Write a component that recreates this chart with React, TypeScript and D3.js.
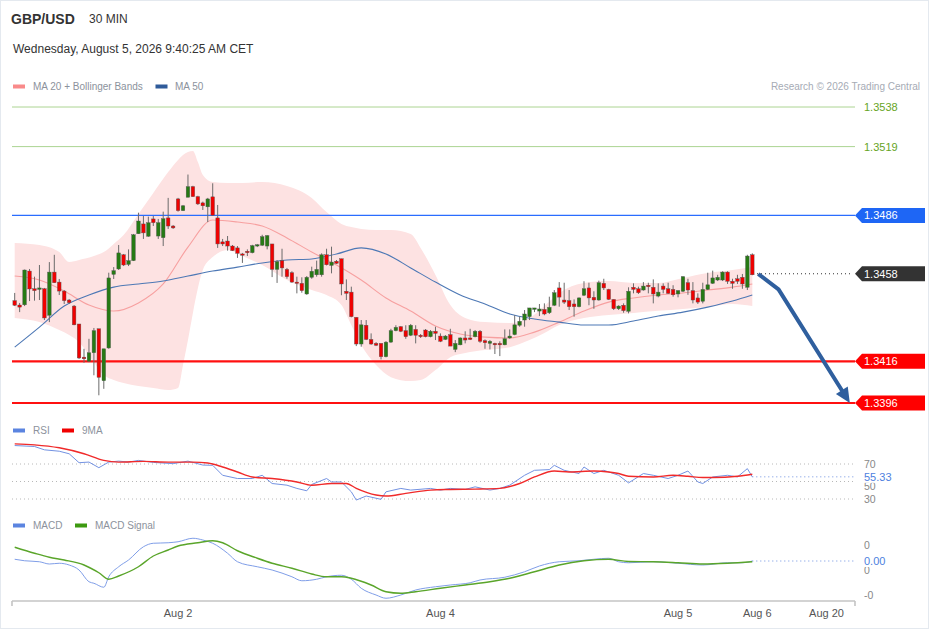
import * as d3 from "d3";

// candles, 30 min
const opens = [
  1.34451, 1.3443, 1.34431, 1.34593, 1.34508, 1.34505, 1.34508, 1.34381, 1.34588, 1.3454,
  1.34497, 1.34454, 1.34425, 1.34339, 1.3418, 1.3416, 1.34201, 1.34316, 1.34067, 1.34224,
  1.34577, 1.34603, 1.34671, 1.34625, 1.34643, 1.34772, 1.34819, 1.3476, 1.34843, 1.34761,
  1.34753, 1.34848, 1.34809, 1.34939, 1.34883, 1.34947, 1.34998, 1.3495, 1.3492, 1.34901,
  1.34949, 1.34848, 1.34733, 1.34737, 1.34713, 1.34704, 1.34675, 1.34688, 1.34681, 1.34713,
  1.34717, 1.34713, 1.34723, 1.34601, 1.34643, 1.34601, 1.34585, 1.3454, 1.34534, 1.34483,
  1.34563, 1.34575, 1.34575, 1.34671, 1.3462, 1.3464, 1.34652, 1.34496, 1.34492, 1.34371,
  1.34243, 1.34333, 1.34265, 1.34246, 1.34246, 1.34182, 1.34252, 1.34307, 1.34326, 1.34307,
  1.34285, 1.34313, 1.34285, 1.3431, 1.34278, 1.34304, 1.34281, 1.34265, 1.34288, 1.34217,
  1.34239, 1.34272, 1.34272, 1.34278, 1.34304, 1.34259, 1.34246, 1.34246, 1.34246, 1.34239,
  1.34272, 1.34288, 1.34333, 1.34358, 1.34374, 1.34409, 1.34401, 1.34409, 1.34393, 1.34429,
  1.34512, 1.34454, 1.34451, 1.34435, 1.34422, 1.34477, 1.34512, 1.34467, 1.34454, 1.34534,
  1.34505, 1.34457, 1.34412, 1.34429, 1.344, 1.34515, 1.34508, 1.34502, 1.34525, 1.34515,
  1.34473, 1.34521, 1.34508, 1.34505, 1.34483, 1.34496, 1.34537, 1.34499, 1.34464, 1.34448,
  1.34505, 1.34534, 1.3455, 1.3455, 1.34588, 1.34544, 1.34556, 1.34563, 1.34515, 1.34671,
];
const closes = [
  1.34429, 1.3442, 1.34598, 1.34507, 1.34499, 1.34512, 1.34368, 1.34588, 1.34537, 1.34497,
  1.34451, 1.34441, 1.34335, 1.34176, 1.34172, 1.34201, 1.34307, 1.34083, 1.3422, 1.3456,
  1.34595, 1.3468, 1.34622, 1.34643, 1.34767, 1.34833, 1.34776, 1.34825, 1.34825, 1.34825,
  1.34844, 1.34809, 1.348, 1.34883, 1.34906, 1.34998, 1.3495, 1.34915, 1.34906, 1.34939,
  1.34861, 1.34723, 1.34723, 1.34713, 1.34691, 1.34678, 1.34669, 1.34681, 1.34715, 1.34719,
  1.34758, 1.34763, 1.34601, 1.34638, 1.34608, 1.34566, 1.3454, 1.34534, 1.34499, 1.34563,
  1.34592, 1.34601, 1.34671, 1.34623, 1.34636, 1.3463, 1.34531, 1.34486, 1.34374, 1.34243,
  1.34335, 1.34265, 1.34243, 1.34237, 1.34182, 1.34252, 1.34307, 1.34323, 1.34304, 1.34278,
  1.34333, 1.34285, 1.34278, 1.34278, 1.34304, 1.34294, 1.34256, 1.34281, 1.34233, 1.34246,
  1.34272, 1.34262, 1.34265, 1.34304, 1.34256, 1.34249, 1.34256, 1.34239, 1.34239, 1.34268,
  1.34281, 1.34335, 1.34352, 1.34387, 1.34416, 1.34416, 1.34411, 1.34387, 1.34419, 1.34489,
  1.34468, 1.34444, 1.34422, 1.34422, 1.34464, 1.34508, 1.34464, 1.34454, 1.34537, 1.34512,
  1.34457, 1.34412, 1.34425, 1.34403, 1.34496, 1.34505, 1.34489, 1.34521, 1.34518, 1.34483,
  1.34492, 1.34505, 1.34486, 1.34479, 1.34499, 1.34566, 1.34502, 1.34454, 1.34444, 1.34505,
  1.34527, 1.3456, 1.34563, 1.34588, 1.34544, 1.34534, 1.34544, 1.34531, 1.34665, 1.34575,
];
const highs = [
  1.34488, 1.3444, 1.346, 1.34603, 1.34566, 1.34622, 1.34512, 1.34636, 1.34671, 1.34555,
  1.34502, 1.34459, 1.3443, 1.34339, 1.3422, 1.34268, 1.3432, 1.34316, 1.3422, 1.34585,
  1.34612, 1.34718, 1.34675, 1.34697, 1.34771, 1.34873, 1.34857, 1.34854, 1.34857, 1.34843,
  1.34878, 1.34944, 1.34814, 1.34944, 1.3491, 1.35056, 1.35002, 1.34954, 1.34926, 1.34944,
  1.35014, 1.3491, 1.34747, 1.34761, 1.34718, 1.34713, 1.3468, 1.34697, 1.34719, 1.34723,
  1.34767, 1.34766, 1.34723, 1.34646, 1.347, 1.34608, 1.34592, 1.34566, 1.34563, 1.34569,
  1.34614, 1.34643, 1.34678, 1.347, 1.3471, 1.34646, 1.34652, 1.34553, 1.34518, 1.34371,
  1.34358, 1.34358, 1.34294, 1.34252, 1.34246, 1.34257, 1.34316, 1.34333, 1.34329, 1.34333,
  1.34339, 1.34333, 1.34291, 1.34315, 1.3431, 1.34326, 1.34294, 1.34286, 1.34316, 1.34262,
  1.34275, 1.34304, 1.34316, 1.3431, 1.3431, 1.34265, 1.34262, 1.34249, 1.34256, 1.34313,
  1.34313, 1.34381, 1.34374, 1.34406, 1.34416, 1.34416, 1.34435, 1.34438, 1.3447, 1.34502,
  1.3454, 1.34537, 1.34502, 1.34457, 1.34467, 1.34544, 1.34537, 1.34496, 1.34547, 1.34556,
  1.34508, 1.34457, 1.34429, 1.34438, 1.34515, 1.34534, 1.34518, 1.3454, 1.34537, 1.34553,
  1.34534, 1.34534, 1.34537, 1.34525, 1.34502, 1.34569, 1.34556, 1.3454, 1.34486, 1.34537,
  1.34585, 1.34595, 1.34575, 1.34592, 1.34592, 1.34556, 1.34575, 1.34579, 1.34671, 1.34678,
];
const lows = [
  1.34425, 1.34396, 1.34425, 1.34449, 1.34451, 1.34454, 1.34358, 1.34348, 1.34536, 1.34478,
  1.34435, 1.34435, 1.34333, 1.34171, 1.34153, 1.34156, 1.34093, 1.33997, 1.34028, 1.3422,
  1.34555, 1.34598, 1.34617, 1.34617, 1.34641, 1.34771, 1.34747, 1.34757, 1.34809, 1.34747,
  1.34713, 1.34795, 1.34795, 1.34878, 1.34881, 1.34947, 1.34949, 1.3491, 1.34886, 1.34828,
  1.34858, 1.34704, 1.34713, 1.34691, 1.34689, 1.34656, 1.34632, 1.34665, 1.34678, 1.34708,
  1.34713, 1.34697, 1.34564, 1.34536, 1.34566, 1.34556, 1.34537, 1.34486, 1.34489, 1.34479,
  1.34556, 1.34566, 1.34566, 1.3462, 1.34582, 1.34627, 1.34477, 1.34454, 1.34371, 1.34233,
  1.3423, 1.34262, 1.34239, 1.34233, 1.34169, 1.34179, 1.34249, 1.34304, 1.343, 1.34268,
  1.34281, 1.34246, 1.34272, 1.34275, 1.34275, 1.34262, 1.34252, 1.34262, 1.34233, 1.34204,
  1.34237, 1.34246, 1.34262, 1.34275, 1.34249, 1.3422, 1.34217, 1.34195, 1.34185, 1.34237,
  1.34268, 1.34285, 1.34326, 1.34326, 1.34358, 1.34396, 1.34377, 1.34381, 1.34387, 1.34425,
  1.34422, 1.34435, 1.34406, 1.34374, 1.34419, 1.34473, 1.34429, 1.34412, 1.34451, 1.34502,
  1.34454, 1.34406, 1.34406, 1.34393, 1.3439, 1.34486, 1.34483, 1.34499, 1.34486, 1.34438,
  1.34467, 1.34486, 1.34483, 1.3447, 1.34467, 1.34492, 1.34479, 1.34438, 1.34435, 1.34438,
  1.34502, 1.34531, 1.34545, 1.34545, 1.34531, 1.34508, 1.34531, 1.34508, 1.34502, 1.34573,
];

// moving averages sampled at these candle indices
const maIdx = [0, 5, 10, 15, 20, 25, 30, 35, 40, 45, 50, 55, 60, 65, 70, 75, 80, 85, 90, 95, 100, 105, 110, 115, 120, 125, 130, 135, 140, 145, 149];
const ma20 = [
  1.34569, 1.3455, 1.34497, 1.3443, 1.34401, 1.3444, 1.34531, 1.34708, 1.34838, 1.34828,
  1.34809, 1.34752, 1.34684, 1.34622, 1.3455, 1.34464, 1.34401, 1.34329, 1.34291, 1.34276,
  1.34272, 1.343, 1.34348, 1.34401, 1.34444, 1.34464, 1.34478, 1.34488, 1.34502, 1.34516, 1.34531,
];
const ma50 = [
  1.34228, 1.34324, 1.34425, 1.34478, 1.34516, 1.34531, 1.34545, 1.34569, 1.34593, 1.34612,
  1.34632, 1.34646, 1.34651, 1.34675, 1.34704, 1.34675, 1.34608, 1.3454, 1.34478, 1.34435,
  1.34387, 1.34363, 1.34348, 1.34334, 1.34334, 1.34353, 1.34377, 1.34396, 1.3442, 1.34449, 1.34478,
];

// bollinger bands
const bandIdx = [0, 5, 9, 11, 13, 16, 18, 20, 22, 25, 28, 31, 33, 34, 35, 36, 37, 38, 40, 43, 46, 50, 55, 60, 63, 66, 68, 70, 73, 76, 80, 82, 85, 88, 91, 95, 100, 104, 107, 110, 115, 120, 125, 130, 135, 140, 145, 149];
const bandUpper = [
  1.34728, 1.34718, 1.34684, 1.34636, 1.34646, 1.34665, 1.34684, 1.34723, 1.34766, 1.34867,
  1.34968, 1.35068, 1.35126, 1.3515, 1.35164, 1.35169, 1.35116, 1.35054, 1.3502, 1.35016,
  1.35016, 1.3502, 1.35001, 1.34944, 1.34876, 1.34819, 1.34804, 1.34795, 1.3479, 1.3479,
  1.34771, 1.34704, 1.34574, 1.3443, 1.34368, 1.34348, 1.34344, 1.34368, 1.34425, 1.34488,
  1.34536, 1.34545, 1.34536, 1.34536, 1.3456, 1.34584, 1.34598, 1.34612,
];
const bandLower = [
  1.34368, 1.34348, 1.3431, 1.34286, 1.34252, 1.34156, 1.34094, 1.3407, 1.34056, 1.34041,
  1.34032, 1.34022, 1.34032, 1.34142, 1.34262, 1.34392, 1.3451, 1.34598, 1.3466, 1.34694,
  1.34665, 1.34622, 1.3455, 1.34502, 1.34478, 1.3443, 1.34334, 1.34238, 1.34142, 1.34084,
  1.34065, 1.3407, 1.34118, 1.3418, 1.342, 1.34214, 1.34228, 1.34262, 1.34296, 1.34334,
  1.34368, 1.34382, 1.34392, 1.34402, 1.34411, 1.34421, 1.34435, 1.34425,
];

// levels
const resistLevels = [1.3538, 1.3519];
const pivotLevel = 1.3486;
const supportLevels = [1.3416, 1.3396];
const lastPrice = 1.3458;
// forecast arrow [candle index, price]
const forecastPath: [number, number][] = [[150.2, 1.34579], [154.3, 1.34505], [168.7, 1.3396]];

// RSI
const rsiIdx = [0, 4, 6, 9, 11, 13, 15, 17, 19, 21, 23, 25, 28, 32, 35, 38, 40, 42, 45, 48, 50, 52, 55, 57, 59, 60, 63, 64, 66, 68, 69, 71, 74, 75, 78, 80, 84, 86, 88, 91, 93, 96, 98, 100, 103, 105, 108, 109, 111, 114, 115, 117, 119, 122, 124, 127, 129, 132, 134, 136, 138, 139, 141, 144, 146, 148, 149];
const rsi = [
  91.1, 90.0, 86.2, 84.6, 81.7, 71.5, 72.2, 65.8, 72.2, 73.3, 72.2, 74.1, 71.8, 70.4, 73.3, 68.8, 68.5,
  57.1, 53.4, 53.4, 57.1, 47.7, 45.8, 42.1, 39.4, 46.6, 53.4, 49.5, 49.5, 38.2, 28.8, 33.4, 29.6, 38.2,
  42.1, 40.2, 42.1, 40.2, 42.1, 40.9, 43.9, 40.2, 42.1, 45.8, 57.1, 62.8, 63.6, 68.5, 62.8, 59.1, 66.6,
  59.1, 62.8, 57.1, 48.4, 59.1, 57.1, 53.4, 57.1, 62.0, 49.5, 47.7, 55.2, 57.1, 55.2, 64.7, 55.33,
];
const rsiMaIdx = [0, 4, 9, 14, 18, 21, 26, 31, 36, 39, 42, 45, 48, 52, 57, 60, 64, 67, 69, 73, 75, 79, 84, 88, 93, 98, 102, 105, 109, 112, 117, 120, 122, 124, 129, 133, 136, 139, 141, 146, 149];
const rsiMa = [
  93.0, 91.9, 88.5, 81.7, 74.1, 72.2, 73.0, 72.2, 72.2, 71.1, 66.6, 60.9, 55.2, 53.4, 49.5, 45.8, 47.7,
  47.7, 42.1, 34.5, 33.4, 36.4, 40.2, 40.9, 41.3, 42.1, 47.7, 55.2, 62.0, 60.9, 62.0, 60.9, 59.1, 56.0,
  55.2, 57.1, 56.0, 54.5, 54.5, 56.0, 58.3,
];
const rsiTicks = [70, 50, 30];

// MACD
const macdIdx = [0, 2, 5, 7, 9, 11, 13, 15, 16, 18, 19, 21, 23, 26, 28, 31, 33, 36, 38, 40, 43, 45, 49, 52, 56, 58, 61, 63, 66, 68, 70, 73, 75, 78, 81, 85, 88, 92, 94, 99, 103, 106, 110, 114, 117, 120, 122, 124, 129, 134, 139, 144, 147, 149];
const macd = [
  0.00041, 0.00035, 0.00031, 0.00022, 0.00025, 0.00018, -0.00002, -0.00049, -0.00055, -0.00071,
  -0.00029, 0.00011, 0.00038, 0.00091, 0.00105, 0.00107, 0.00111, 0.00125, 0.00118, 0.00105,
  0.00065, 0.00031, 0.00011, -0.00002, -0.00029, -0.00045, -0.00039, -0.00029, -0.00023, -0.00039,
  -0.00075, -0.00102, -0.00115, -0.00102, -0.00082, -0.00069, -0.00062, -0.00053, -0.00042, -0.00031,
  -0.00009, 0.00014, 0.00031, 0.00035, 0.00041, 0.00045, 0.00031, 0.00027, 0.00031, 0.00025,
  0.00018, 0.00027, 0.00027, 0.00034,
];
const signalIdx = [0, 4, 7, 10, 14, 17, 19, 21, 25, 28, 31, 33, 37, 40, 42, 45, 49, 52, 56, 60, 63, 66, 68, 72, 75, 78, 81, 86, 91, 96, 100, 105, 110, 115, 120, 124, 129, 134, 139, 144, 149];
const signal = [
  0.00089, 0.00065, 0.00049, 0.00038, 0.00018, -0.00013, -0.00039, -0.00026, 0.00011, 0.00054,
  0.00078, 0.00094, 0.00107, 0.00115, 0.00107, 0.00075, 0.00045, 0.00025, 0.00005, -0.00018,
  -0.00029, -0.00029, -0.00035, -0.00062, -0.00089, -0.00095, -0.00089, -0.00075, -0.00062, -0.00049,
  -0.00035, -0.00009, 0.00018, 0.00035, 0.00041, 0.00032, 0.00031, 0.00027, 0.00022, 0.00025, 0.00031,
];
const macdTicks = [0.001, 0, -0.001];
const macdTickLabels = ["0", "0", "-0"];

// x axis labels at candle index positions
const dateTicks = [33, 86, 134, 150, 164];
const dateLabels = ["Aug 2", "Aug 4", "Aug 5", "Aug 6", "Aug 20"];

const FONT = "'Liberation Sans', Arial, sans-serif";
const UP = "#267a14";
const DOWN = "#f00000";

function LevelTag({ y, text, fill }: { y: number; text: string; fill: string }) {
  const pts = `855,${y} 862,${y - 7.5} 925,${y - 7.5} 925,${y + 7.5} 862,${y + 7.5}`;
  return (
    <g>
      <polygon points={pts} fill={fill} />
      <text x={864} y={y + 4} fill="#fff" fontSize={11}>{text}</text>
    </g>
  );
}

export default function App() {
  const x = d3.scaleLinear().domain([0, 149]).range([14.7, 752.3]);
  const y = d3.scaleLinear().domain([1.3396, 1.3538]).range([403, 107]);
  const ry = d3.scaleLinear().domain([30, 70]).range([499, 464]);
  const my = d3.scaleLinear().domain([-0.001, 0.001]).range([594.5, 544.5]);
  const fmt = d3.format(".4f");
  const xLeft = 12;
  const xRight = 855;

  const band = d3.area<number>()
    .x((i) => x(bandIdx[i]))
    .y0((i) => y(bandLower[i]))
    .y1((i) => y(bandUpper[i]))
    .curve(d3.curveMonotoneX);
  const bandKeys = bandIdx.map((_, i) => i);

  const sampled = (idx: number[], vals: number[], sy: d3.ScaleLinear<number, number>, curve: d3.CurveFactory) =>
    d3.line<number>().x((i) => x(idx[i])).y((i) => sy(vals[i])).curve(curve)(idx.map((_, i) => i)) || "";

  // forecast arrow geometry
  const fp = forecastPath.map(([i, p]) => [x(i), y(p)] as [number, number]);
  const [bx, by] = fp[1];
  const [tx, ty] = fp[2];
  const len = Math.hypot(tx - bx, ty - by);
  const ux = (tx - bx) / len;
  const uy = (ty - by) / len;
  const headL = 15;
  const headW = 7;
  const baseX = tx - ux * headL;
  const baseY = ty - uy * headL;
  const arrowLine = `M${fp[0][0]},${fp[0][1]}L${bx},${by}L${baseX + ux * 2},${baseY + uy * 2}`;
  const head = `${tx},${ty} ${baseX - uy * headW},${baseY + ux * headW} ${baseX + uy * headW},${baseY - ux * headW}`;

  const bw = 3.6;
  const lastX = x(149);
  const lastRsi = rsi[rsi.length - 1];
  const lastMacd = macd[macd.length - 1];

  return (
    <div style={{ position: "absolute", left: 0, top: 0 }}>
      <svg width={929} height={629} style={{ display: "block", fontFamily: FONT }}>
        <rect x={0.5} y={0.5} width={928} height={628} fill="#fff" stroke="#e4e9ef" />

        {/* header */}
        <text x={11} y={24} fontSize={14} fontWeight="bold" fill="#333">GBP/USD</text>
        <text x={89} y={23} fontSize={12} fill="#333">30 MIN</text>
        <text x={13} y={53} fontSize={12} fill="#333">Wednesday, August 5, 2026 9:40:25 AM CET</text>

        <rect x={13} y={84.5} width={12} height={4} fill="#f98a8a" />
        <text x={33} y={90} fontSize={10} fill="#8c929c">MA 20 + Bollinger Bands</text>
        <rect x={155.5} y={84.5} width={12} height={4} fill="#2f5b9a" />
        <text x={175} y={90} fontSize={10} fill="#8c929c">MA 50</text>
        <text x={920} y={90} fontSize={10} fill="#a6abb5" textAnchor="end">Research © 2026 Trading Central</text>

        {/* bands */}
        <path d={band(bandKeys) || ""} fill="#fde2e2" />

        {/* levels */}
        {resistLevels.map((v) => (
          <g key={v}>
            <line x1={xLeft} x2={xRight} y1={y(v)} y2={y(v)} stroke="#acd492" strokeWidth={1} />
            <text x={864} y={y(v) + 4} fontSize={11} fill="#66a424">{fmt(v)}</text>
          </g>
        ))}
        <line x1={xLeft} x2={xRight} y1={y(pivotLevel)} y2={y(pivotLevel)} stroke="#2a6dff" strokeWidth={1.2} />
        {supportLevels.map((v) => (
          <line key={v} x1={xLeft} x2={xRight} y1={y(v)} y2={y(v)} stroke="#ff1010" strokeWidth={2.2} />
        ))}

        {/* moving averages */}
        <path d={sampled(maIdx, ma20, y, d3.curveMonotoneX)} fill="none" stroke="#f7a0a0" strokeWidth={1.1} />
        <path d={sampled(maIdx, ma50, y, d3.curveMonotoneX)} fill="none" stroke="#4d78b5" strokeWidth={1.1} />

        {/* candles */}
        {opens.map((o, i) => {
          const c = closes[i];
          const cx = x(i);
          const top = y(Math.max(o, c));
          const bot = y(Math.min(o, c));
          return (
            <g key={i}>
              <line x1={cx} x2={cx} y1={y(highs[i])} y2={y(lows[i])} stroke="#6b6b6b" strokeWidth={1} />
              <rect
                x={cx - bw / 2}
                y={top}
                width={bw}
                height={Math.max(1.2, bot - top)}
                fill={c >= o ? UP : DOWN}
                stroke="#555"
                strokeWidth={0.4}
              />
            </g>
          );
        })}

        {/* last price */}
        <line x1={757} x2={852} y1={y(lastPrice)} y2={y(lastPrice)} stroke="#333" strokeDasharray="1,3" />

        {/* forecast arrow */}
        <path d={arrowLine} fill="none" stroke="#2f5f9e" strokeWidth={4} strokeLinejoin="round" />
        <polygon points={head} fill="#2f5f9e" />

        <LevelTag y={y(pivotLevel)} text={fmt(pivotLevel)} fill="#1e66f5" />
        <LevelTag y={y(lastPrice)} text={fmt(lastPrice)} fill="#333333" />
        {supportLevels.map((v) => (
          <LevelTag key={v} y={y(v)} text={fmt(v)} fill="#ff0000" />
        ))}

        {/* RSI panel */}
        <rect x={13} y={428.5} width={12} height={4} fill="#5b84e0" />
        <text x={33} y={434} fontSize={10} fill="#8c929c">RSI</text>
        <rect x={62} y={428.5} width={12} height={4} fill="#f00000" />
        <text x={82} y={434} fontSize={10} fill="#8c929c">9MA</text>
        {rsiTicks.map((t) => (
          <g key={t}>
            <line x1={xLeft} x2={xRight} y1={ry(t)} y2={ry(t)} stroke="#b8b8b8" strokeDasharray="1,3" />
            <text x={864} y={ry(t) + (t === 50 ? 8 : 4)} fontSize={10.5} fill="#888">{t}</text>
          </g>
        ))}
        <path d={sampled(rsiIdx, rsi, ry, d3.curveLinear)} fill="none" stroke="#7392e2" strokeWidth={1} />
        <path d={sampled(rsiMaIdx, rsiMa, ry, d3.curveMonotoneX)} fill="none" stroke="#f02a2a" strokeWidth={1.4} />
        <line x1={lastX} x2={xRight} y1={ry(lastRsi)} y2={ry(lastRsi)} stroke="#6b8fe0" strokeDasharray="1,3" />
        <rect x={860} y={ry(lastRsi) - 7} width={36} height={13} fill="#fff" />
        <text x={864} y={ry(lastRsi) + 4} fontSize={11} fill="#4e7fe0">{d3.format(".2f")(lastRsi)}</text>

        {/* MACD panel */}
        <rect x={13} y={523.5} width={12} height={4} fill="#5b84e0" />
        <text x={33} y={529} fontSize={10} fill="#8c929c">MACD</text>
        <rect x={75} y={523.5} width={12} height={4} fill="#3d9a10" />
        <text x={95} y={529} fontSize={10} fill="#8c929c">MACD Signal</text>
        {macdTicks.map((t, i) => (
          <text key={t} x={864} y={my(t) + 4} fontSize={10.5} fill="#888">{macdTickLabels[i]}</text>
        ))}
        <path d={sampled(macdIdx, macd, my, d3.curveMonotoneX)} fill="none" stroke="#7f9ee8" strokeWidth={1} />
        <path d={sampled(signalIdx, signal, my, d3.curveMonotoneX)} fill="none" stroke="#5aa52a" strokeWidth={1.4} />
        <line x1={lastX} x2={xRight} y1={my(lastMacd)} y2={my(lastMacd)} stroke="#6b8fe0" strokeDasharray="1,3" />
        <rect x={860} y={my(lastMacd) - 7} width={30} height={13} fill="#fff" />
        <text x={864} y={my(lastMacd) + 4} fontSize={11} fill="#4e7fe0">{d3.format(".2f")(lastMacd)}</text>

        {/* x axis */}
        <line x1={xLeft} x2={xRight} y1={601} y2={601} stroke="#c4c4c4" strokeWidth={1.6} />
        <line x1={xLeft} x2={xLeft} y1={601} y2={606} stroke="#c4c4c4" strokeWidth={1.6} />
        <line x1={xRight} x2={xRight} y1={601} y2={606} stroke="#c4c4c4" strokeWidth={1.6} />
        {dateTicks.map((t, i) => (
          <text key={t} x={x(t)} y={617} fontSize={11} fill="#555" textAnchor="middle">{dateLabels[i]}</text>
        ))}
      </svg>
    </div>
  );
}
